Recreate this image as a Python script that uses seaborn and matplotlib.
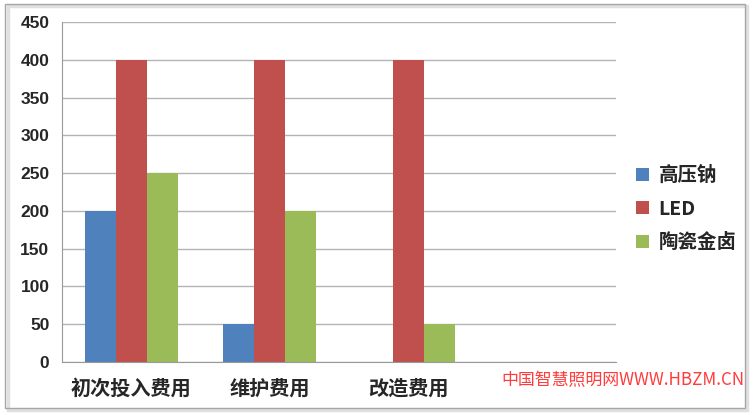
import pandas as pd
import matplotlib.pyplot as plt
import seaborn as sns
from matplotlib.patches import Rectangle
from matplotlib.ticker import FixedLocator

categories = ['初次投入费用', '维护费用', '改造费用']
series = ['高压钠', 'LED', '陶瓷金卤']
hps_values = [200, 50, 0]
led_values = [400, 400, 400]
metal_halide_values = [250, 200, 50]
y_ticks = [0, 50, 100, 150, 200, 250, 300, 350, 400, 450]
colors = ['#4F81BD', '#C0504D', '#9BBB59']
watermark = '中国智慧照明网WWW.HBZM.CN'


def main():
    # long-form table for seaborn
    rows = []
    for name, vals in zip(series, [hps_values, led_values, metal_halide_values]):
        for cat, v in zip(categories, vals):
            rows.append({'类别': cat, '系列': name, '费用': v})
    df = pd.DataFrame(rows)

    sns.set_style('white')
    plt.rcParams['font.family'] = ['Noto Sans CJK SC', 'DejaVu Sans']

    fig = plt.figure(figsize=(7.54, 4.15), dpi=100)
    ax = fig.add_axes([0.0822, 0.1277, 0.7348, 0.8193])

    sns.barplot(data=df, x='类别', y='费用', hue='系列', order=categories,
                hue_order=series, palette=colors, width=0.67, saturation=1,
                edgecolor='none', ax=ax)

    # empty fourth slot like the original
    ax.set_xlim(-0.5, 3.5)
    ax.set_ylim(0, 450)
    ax.set_yticks(y_ticks)
    ax.yaxis.grid(True, color='#b3b3b3', linewidth=1)
    ax.set_axisbelow(True)

    ax.xaxis.set_minor_locator(FixedLocator([-0.5, 0.5, 1.5, 2.5, 3.5]))
    ax.tick_params(axis='x', which='major', length=0, pad=11)
    ax.tick_params(axis='x', which='minor', length=6, color='#999999', width=1)
    ax.tick_params(axis='y', length=5, color='#b3b3b3', width=1, pad=4)

    for lbl in ax.get_xticklabels():
        lbl.set_fontsize(14.5)
        lbl.set_fontweight('bold')
    for lbl in ax.get_yticklabels():
        lbl.set_fontsize(12.5)
        lbl.set_fontweight('bold')
        lbl.set_family(['Liberation Sans'])

    for side in ['top', 'right']:
        ax.spines[side].set_visible(False)
    ax.spines['left'].set_color('#999999')
    ax.spines['bottom'].set_color('#999999')

    ax.set_xlabel('')
    ax.set_ylabel('')

    leg = ax.legend(loc='center left', bbox_to_anchor=(1.005, 0.45), frameon=False,
                    handlelength=0.65, handleheight=0.65, handletextpad=0.5,
                    labelspacing=0.75, prop={'size': 14, 'weight': 'bold'})
    for t in leg.get_texts():
        t.set_family(['Noto Sans CJK SC', 'DejaVu Sans'])

    fig.text(0.988, 0.085, watermark, color='#ff3b3b', fontsize=12.2,
             ha='right', va='center')

    # outer frame with a soft shadow
    fig.patches.append(Rectangle((0.010, 0.013), 0.981, 0.973, transform=fig.transFigure,
                                 fill=False, edgecolor='#e0e0e0', linewidth=2.5, zorder=-1))
    fig.patches.append(Rectangle((0.007, 0.018), 0.981, 0.972, transform=fig.transFigure,
                                 fill=False, edgecolor='#a6a6a6', linewidth=1))

    fig.savefig('out.png', dpi=100)


if __name__ == '__main__':
    main()
